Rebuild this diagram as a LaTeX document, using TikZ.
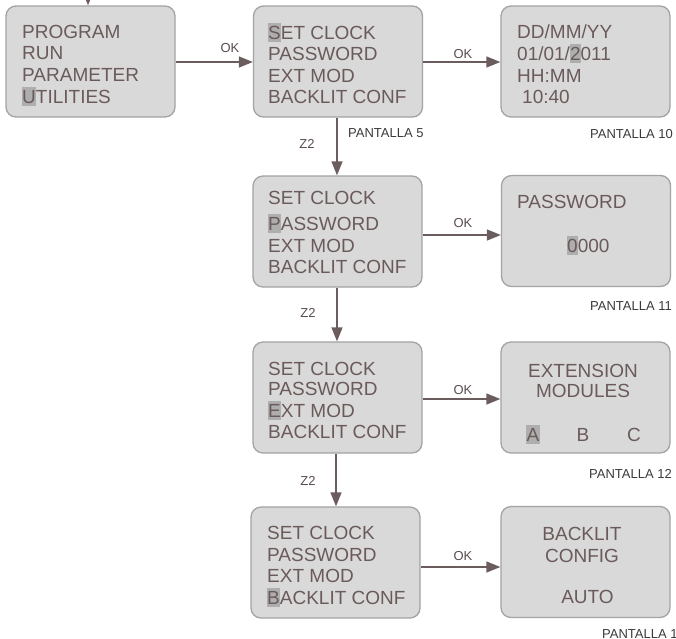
\documentclass[tikz,border=0pt]{standalone}
\usepackage{fontspec}
\setmainfont{Liberation Sans}
\usetikzlibrary{arrows.meta}
\definecolor{boxfill}{HTML}{D9D9D9}
\definecolor{boxline}{HTML}{A3A3A3}
\definecolor{hlc}{HTML}{AEAEAE}
\definecolor{txt}{HTML}{6B5A5A}
\definecolor{arr}{HTML}{6B5D5D}
\definecolor{lbl}{HTML}{5A4C4C}
\definecolor{scr}{HTML}{3A3A3A}
\newcommand\hlt[1]{\setbox0\hbox{#1}\rlap{\kern-0.5pt\textcolor{hlc}{\rule[-3pt]{\dimexpr\wd0+1pt\relax}{19pt}}}\box0\relax}
\tikzset{
  screen/.style={draw=boxline, fill=boxfill, line width=1.3pt, rounded corners=10pt,
    minimum width=169pt, minimum height=111pt, inner sep=0pt},
  ln/.style={anchor=base west, inner sep=0pt, text=txt, font=\fontsize{19}{19}\selectfont},
  lc/.style={anchor=base, inner sep=0pt, text=txt, font=\fontsize{19}{19}\selectfont},
  conn/.style={draw=arr, line width=1.3pt, -{Triangle[length=14pt,width=11pt]}},
  lab/.style={inner sep=0pt, text=lbl, font=\fontsize{13}{13}\selectfont},
  pant/.style={anchor=base east, inner sep=0pt, text=scr, font=\fontsize{13}{13}\selectfont},
}
\begin{document}
\begin{tikzpicture}[x=1pt,y=-1pt]
\useasboundingbox (0,0) rectangle (676,638);
\clip (0,0) rectangle (676,638);
% boxes
\node[screen] (b1) at (90.5,61.5) {};
\node[screen] (b2) at (338,61.5) {};
\node[screen] (b3) at (585.5,61.5) {};
\node[screen] (b4) at (337.5,231.5) {};
\node[screen] (b5) at (586,231) {};
\node[screen] (b6) at (337.5,397.5) {};
\node[screen] (b7) at (585.5,397.5) {};
\node[screen] (b8) at (335.5,562.5) {};
\node[screen] (b9) at (585.5,562) {};
% box 1
\node[ln] (t1a) at (22,38) {PROGRAM};
\node[ln] (t1b) at (22,59.5) {RUN};
\node[ln] (t1c) at (22,81.5) {PARAMETER};
\node[ln] (t1d) at (22,103) {\hlt{U}TILITIES};
% box 2
\node[ln] (t2a) at (268,39) {\hlt{S}ET CLOCK};
\node[ln] (t2b) at (268,60) {PASSWORD};
\node[ln] (t2c) at (268,82) {EXT MOD};
\node[ln] (t2d) at (268,103) {BACKLIT CONF};
% box 3
\node[ln] (t3a) at (517,38) {DD/MM/YY};
\node[ln] (t3b) at (517,60) {01/01/\hlt{2}011};
\node[ln] (t3c) at (517,82) {HH:MM};
\node[ln] (t3d) at (522,103) {10:40};
% box 4
\node[ln] (t4a) at (268,204) {SET CLOCK};
\node[ln] (t4b) at (268,230) {\hlt{P}ASSWORD};
\node[ln] (t4c) at (268,252) {EXT MOD};
\node[ln] (t4d) at (268,273) {BACKLIT CONF};
% box 5
\node[ln] (t5a) at (517,208) {PASSWORD};
\node[ln] (t5b) at (567,252) {\hlt{0}000};
% box 6
\node[ln] (t6a) at (268,375) {SET CLOCK};
\node[ln] (t6b) at (268,395.5) {PASSWORD};
\node[ln] (t6c) at (268,417) {\hlt{E}XT MOD};
\node[ln] (t6d) at (268,438) {BACKLIT CONF};
% box 7
\node[lc] (t7a) at (583,377) {EXTENSION};
\node[lc] (t7b) at (583,397.5) {MODULES};
\node[lc] (t7c) at (533,441) {\hlt{A}};
\node[lc] (t7d) at (583,441) {B};
\node[lc] (t7e) at (634,441) {C};
% box 8
\node[ln] (t8a) at (267,539) {SET CLOCK};
\node[ln] (t8b) at (267,561) {PASSWORD};
\node[ln] (t8c) at (267,582) {EXT MOD};
\node[ln] (t8d) at (267,604) {\hlt{B}ACKLIT CONF};
% box 9
\node[lc] (t9a) at (582,540) {BACKLIT};
\node[lc] (t9b) at (582,562) {CONFIG};
\node[lc] (t9c) at (587.5,603) {AUTO};
% connectors
\coordinate (top) at (88,-30);
\draw[conn] (top) -- (b1.north -| top);
\draw[conn] (b1.east |- 0,62) -- (b2.west |- 0,62);
\draw[conn] (b2.east |- 0,62) -- (b3.west |- 0,62);
\draw[conn] (b4.east |- 0,235) -- (b5.west |- 0,235);
\draw[conn] (b6.east |- 0,399) -- (b7.west |- 0,399);
\draw[conn] (b8.east |- 0,567) -- (b9.west |- 0,567);
\draw[conn] (b2.south -| 337,0) -- (b4.north -| 337,0);
\draw[conn] (b4.south -| 337,0) -- (b6.north -| 337,0);
\draw[conn] (b6.south -| 336,0) -- (b8.north -| 336,0);
% labels
\node[lab] (ok1) at (230,48) {OK};
\node[lab] (ok2) at (463,54) {OK};
\node[lab] (ok3) at (463,223) {OK};
\node[lab] (ok4) at (463,390) {OK};
\node[lab] (ok5) at (463,556) {OK};
\node[lab] (z1) at (307,144) {Z2};
\node[lab] (z2) at (308,313) {Z2};
\node[lab] (z3) at (308,481) {Z2};
\node[pant, anchor=base west] (p5) at (348,137) {PANTALLA 5};
\node[pant] (p10) at (673,138) {PANTALLA 10};
\node[pant] (p11) at (672,310) {PANTALLA 11};
\node[pant] (p12) at (672,478) {PANTALLA 12};
\node[pant, anchor=base west] (p13) at (602,638) {PANTALLA 13};
\end{tikzpicture}
\end{document}
